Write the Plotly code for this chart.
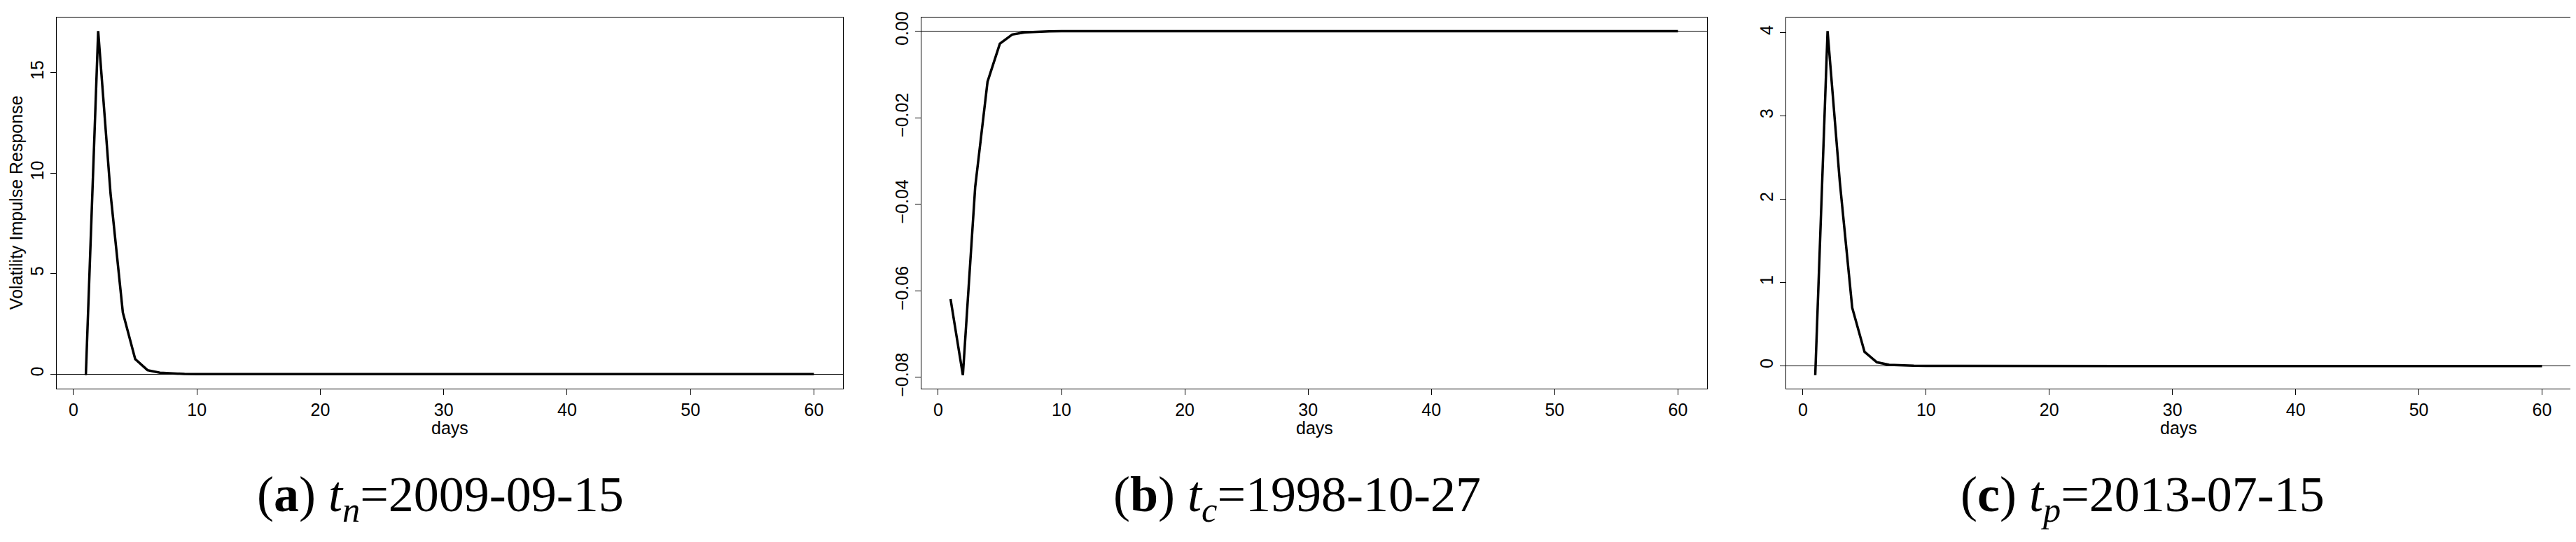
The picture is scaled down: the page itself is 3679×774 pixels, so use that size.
import plotly.graph_objects as go

# impulse response of volatility, 60 days after each shock
days = list(range(1, 61))

vir_a = [-0.05, 17.07, 9.0, 3.06, 0.75, 0.20, 0.07, 0.025, 0.009, 0.004,
         0.002, 0.001, 0.0005, 0.0002, 0.0001, 0.0, 0.0, 0.0, 0.0, 0.0,
         0.0, 0.0, 0.0, 0.0, 0.0, 0.0, 0.0, 0.0, 0.0, 0.0,
         0.0, 0.0, 0.0, 0.0, 0.0, 0.0, 0.0, 0.0, 0.0, 0.0,
         0.0, 0.0, 0.0, 0.0, 0.0, 0.0, 0.0, 0.0, 0.0, 0.0,
         0.0, 0.0, 0.0, 0.0, 0.0, 0.0, 0.0, 0.0, 0.0, 0.0]

vir_b = [-0.0619, -0.0795, -0.0360, -0.0117, -0.0029, -0.0008, -0.0003, -0.0001, -0.00004, -0.00002,
         -0.00001, 0.0, 0.0, 0.0, 0.0, 0.0, 0.0, 0.0, 0.0, 0.0,
         0.0, 0.0, 0.0, 0.0, 0.0, 0.0, 0.0, 0.0, 0.0, 0.0,
         0.0, 0.0, 0.0, 0.0, 0.0, 0.0, 0.0, 0.0, 0.0, 0.0,
         0.0, 0.0, 0.0, 0.0, 0.0, 0.0, 0.0, 0.0, 0.0, 0.0,
         0.0, 0.0, 0.0, 0.0, 0.0, 0.0, 0.0, 0.0, 0.0, 0.0]

vir_c = [-0.11, 4.02, 2.2, 0.70, 0.17, 0.045, 0.015, 0.006, 0.003, 0.001,
         0.0005, 0.0002, 0.0001, 0.0, 0.0, 0.0, 0.0, 0.0, 0.0, 0.0,
         0.0, 0.0, 0.0, 0.0, 0.0, 0.0, 0.0, 0.0, 0.0, 0.0,
         0.0, 0.0, 0.0, 0.0, 0.0, 0.0, 0.0, 0.0, 0.0, 0.0,
         0.0, 0.0, 0.0, 0.0, 0.0, 0.0, 0.0, 0.0, 0.0, 0.0,
         0.0, 0.0, 0.0, 0.0, 0.0, 0.0, 0.0, 0.0, 0.0, 0.0]

x_ticks = [0, 10, 20, 30, 40, 50, 60]
y_ticks_a = [0, 5, 10, 15]
y_ticks_b = [0.0, -0.02, -0.04, -0.06, -0.08]
y_ticks_c = [0, 1, 2, 3, 4]

captions = ["(<b>a</b>) <i>t<sub>n</sub></i>=2009-09-15",
            "(<b>b</b>) <i>t<sub>c</sub></i>=1998-10-27",
            "(<b>c</b>) <i>t<sub>p</sub></i>=2013-07-15"]

W, H = 3679, 774
# plot boxes in pixels (left, right), same top / bottom for all
boxes = [(73, 1196), (1308, 2430), (2543, 3664)]
top, bottom = 9, 553
caption_x = [621, 1845, 3052]


def r_range(vals):
    # R default axis: data range widened by 4% each side
    lo, hi = min(vals), max(vals)
    pad = 0.04 * (hi - lo)
    return [lo - pad, hi + pad]


fig = go.Figure()
series = [vir_a, vir_b, vir_c]
yticks = [y_ticks_a, y_ticks_b, y_ticks_c]
font_axis = dict(family="Liberation Sans, Arial, sans-serif", size=25, color="black")

for i, vals in enumerate(series):
    n = "" if i == 0 else str(i + 1)
    fig.add_trace(go.Scatter(x=days, y=vals, mode="lines",
                             line=dict(color="black", width=3.5),
                             xaxis="x" + n, yaxis="y" + n, showlegend=False))
    l, r = boxes[i]
    fig.layout["xaxis" + n] = dict(
        domain=[l / W, r / W], anchor="y" + n,
        range=r_range(days), tickvals=x_ticks,
        showline=True, linecolor="black", linewidth=1, mirror=True,
        ticks="outside", ticklen=8, tickwidth=1, tickcolor="black",
        showgrid=False, zeroline=False, tickfont=font_axis)
    fig.layout["yaxis" + n] = dict(
        domain=[(H - bottom) / H, (H - top) / H], anchor="x" + n,
        range=r_range(vals), tickvals=yticks[i],
        tickformat=".2f" if i == 1 else "d", tickangle=-90,
        showline=True, linecolor="black", linewidth=1, mirror=True,
        ticks="outside", ticklen=8, tickwidth=1, tickcolor="black",
        showgrid=False, zeroline=True, zerolinecolor="black", zerolinewidth=1,
        tickfont=font_axis)
    # "days" label
    fig.add_annotation(text="days", x=(l + r) / 2 / W, y=(H - 610) / H,
                       xref="paper", yref="paper", showarrow=False,
                       font=font_axis, xanchor="center", yanchor="middle")
    fig.add_annotation(text=captions[i], x=caption_x[i] / W, y=(H - 712) / H,
                       xref="paper", yref="paper", showarrow=False,
                       font=dict(family="Liberation Serif, Times New Roman, serif",
                                 size=72, color="black"),
                       xanchor="center", yanchor="middle")

fig.add_annotation(text="Volatility Impulse Response", x=15 / W, y=(H - 280) / H,
                   xref="paper", yref="paper", showarrow=False, textangle=-90,
                   font=font_axis, xanchor="center", yanchor="middle")

fig.update_layout(width=W, height=H, margin=dict(l=0, r=0, t=0, b=0),
                  paper_bgcolor="white", plot_bgcolor="white")

fig.write_html("out.html")
